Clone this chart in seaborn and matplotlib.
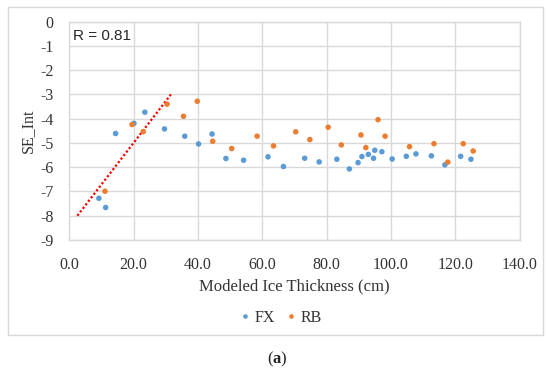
import matplotlib
matplotlib.use("Agg")
import matplotlib.pyplot as plt
import seaborn as sns
import pandas as pd
from matplotlib.patches import Rectangle
from matplotlib.lines import Line2D

# ---- data ----
fx_x = [9.2, 11.3, 14.4, 20.1, 23.5, 29.6, 35.9, 40.2, 44.4, 48.7, 54.2, 61.8, 66.6,
        73.2, 77.7, 83.2, 87.1, 89.8, 91.0, 93.0, 94.6, 95.0, 97.2, 100.4, 104.8,
        107.8, 112.6, 116.8, 121.7, 124.9]
fx_y = [-7.28, -7.66, -4.61, -4.19, -3.73, -4.42, -4.72, -5.04, -4.63, -5.64, -5.71, -5.57, -5.97,
        -5.63, -5.78, -5.67, -6.07, -5.81, -5.56, -5.47, -5.63, -5.30, -5.36, -5.66, -5.55,
        -5.45, -5.53, -5.90, -5.55, -5.67]
rb_x = [11.1, 19.5, 23.0, 30.4, 35.5, 39.8, 44.6, 50.5, 58.4, 63.5, 70.4, 74.8,
        80.5, 84.6, 90.7, 92.2, 96.0, 98.2, 105.8, 113.4, 117.7, 122.5, 125.6]
rb_y = [-6.99, -4.24, -4.53, -3.40, -3.90, -3.28, -4.93, -5.23, -4.72, -5.12, -4.54, -4.86,
        -4.35, -5.08, -4.67, -5.19, -4.04, -4.72, -5.15, -5.03, -5.79, -5.03, -5.33]
trend_x = [2.5, 31.6]
trend_y = [-8.0, -3.0]
series_names = ["FX", "RB"]
x_ticks = [0, 20, 40, 60, 80, 100, 120, 140]
y_ticks = [0, -1, -2, -3, -4, -5, -6, -7, -8, -9]
r_label = "R = 0.81"

df = pd.DataFrame({
    "x": fx_x + rb_x,
    "y": fx_y + rb_y,
    "series": [series_names[0]] * len(fx_x) + [series_names[1]] * len(rb_x),
})

sns.set_style("white")
plt.rcParams["font.family"] = ["Liberation Serif", "DejaVu Serif"]
plt.rcParams["mathtext.fontset"] = "custom"
plt.rcParams["mathtext.rm"] = "Liberation Serif"
plt.rcParams["mathtext.bf"] = "Liberation Serif:bold"

fig = plt.figure(figsize=(5.5, 3.71), dpi=100)
fig.patch.set_facecolor("white")

# outer chart frame
fig.patches.append(Rectangle((8 / 550, 1 - 335 / 371), 535 / 550, 328 / 371,
                             transform=fig.transFigure, fill=False,
                             edgecolor="#D9D9D9", linewidth=1.0, zorder=0))

ax = fig.add_axes([69.3 / 550, 1 - 240 / 371, 450.2 / 550, 218.3 / 371])

palette = {"FX": "#5B9BD5", "RB": "#ED7D31"}
sns.scatterplot(data=df, x="x", y="y", hue="series", palette=palette, s=16,
                edgecolor="none", ax=ax, legend=False, zorder=3)
sns.lineplot(x=trend_x, y=trend_y, ax=ax, color="#FF0000", linestyle=(0, (1, 1)),
             linewidth=1.6, zorder=2)

ax.set_xlim(0, 140)
ax.set_ylim(-9, 0)
ax.set_xticks(x_ticks)
ax.set_xticklabels([f"{v:.1f}" for v in x_ticks])
ax.set_yticks(y_ticks)
ax.set_yticklabels([str(v) for v in y_ticks])
ax.grid(True, color="#D9D9D9", linewidth=1.0)
ax.set_axisbelow(True)
for s in ax.spines.values():
    s.set_color("#D9D9D9")
    s.set_linewidth(1.0)
ax.tick_params(axis="both", length=0, labelsize=11.5, colors="#333333")
ax.tick_params(axis="y", pad=11.5)
ax.tick_params(axis="x", pad=12.5)

ax.set_xlabel("Modeled Ice Thickness (cm)", fontsize=12, color="#333333", va="center")
ax.xaxis.set_label_coords(0.5, (240 - 286) / 218.3)
ax.set_ylabel("SE_Int", fontsize=11.5, color="#333333", va="center")
ax.yaxis.set_label_coords((28 - 69.3) / 450.2, 0.5)

ax.text(0.008, 0.965, r_label, transform=ax.transAxes, ha="left", va="top",
        fontsize=11, family=["Liberation Sans", "DejaVu Sans"], color="#262626")

# legend
handles = [Line2D([], [], marker="o", linestyle="none", markersize=3.3,
                  markerfacecolor=palette[n], markeredgecolor="none") for n in series_names]
fig.legend(handles, series_names, loc="center", bbox_to_anchor=(281 / 550, 1 - 318 / 371),
           ncol=2, frameon=False, fontsize=11.5, handletextpad=0.3, columnspacing=0.65,
           labelcolor="#333333", handlelength=0.6)

fig.text(277 / 550, 1 - 359 / 371, r"(" + r"$\mathbf{a}$" + ")", ha="center", va="center",
         fontsize=12, color="#262626")

fig.savefig("out.png", dpi=100, facecolor="white")
